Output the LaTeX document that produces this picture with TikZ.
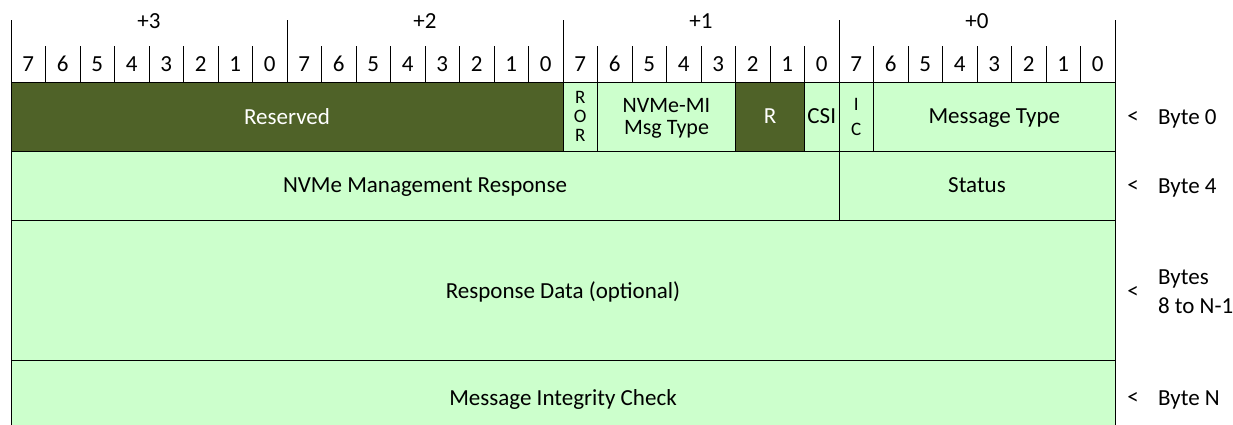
\documentclass[tikz,border=0pt]{standalone}
\usepackage{fontspec}
\setmainfont{Carlito}
\definecolor{rsvdgreen}{RGB}{79,98,40}
\definecolor{fieldgreen}{RGB}{204,255,204}
\def\cw{34.5}

\begin{document}
\begin{tikzpicture}[x=1pt, y=-1pt, line width=1pt, inner sep=0pt, outer sep=0pt,
  font=\fontsize{23}{27}\selectfont, text depth=0pt,
  field/.style={draw, fill=fieldgreen, anchor=north west, align=center},
  rsvd/.style={field, fill=rsvdgreen, text=white},
  narrow/.style={font=\fontsize{19}{19}\selectfont}]
\useasboundingbox (0,0) rectangle (1233,424);
\clip (0,0) rectangle (1233,424);

% header
\foreach \b in {0,...,4}
  \draw (11+\b*8*\cw,20) -- (11+\b*8*\cw,82);
\foreach \i in {1,...,31}
  \draw (11+\i*\cw,46) -- (11+\i*\cw,82);
\foreach \b in {0,...,3} {
  \pgfmathtruncatemacro\byte{3-\b}
  \node (byte\b) at (11+\b*8*\cw+4*\cw,21) {+\byte};
}
\foreach \i in {0,...,31} {
  \pgfmathtruncatemacro\bit{7-mod(\i,8)}
  \node (bit\i) at (11+\i*\cw+\cw/2,64) {\bit};
}

% byte 0
\node[rsvd, minimum width=16*\cw, minimum height=69] (reserved) at (11,82) {Reserved};
\node[field, narrow, minimum width=\cw, minimum height=69] (ror) at (11+16*\cw,82) {R\\O\\R};
\node[field, minimum width=4*\cw, minimum height=69, font=\fontsize{22}{22}\selectfont] (mimsg) at (11+17*\cw,82) {NVMe-MI\\Msg Type};
\node[rsvd, minimum width=2*\cw, minimum height=69] (rbits) at (11+21*\cw,82) {R};
\node[field, minimum width=\cw, minimum height=69] (csi) at (11+23*\cw,82) {CSI};
\node[field, narrow, minimum width=\cw, minimum height=69, font=\fontsize{19}{25}\selectfont] (ic) at (11+24*\cw,82) {I\\C};
\node[field, minimum width=7*\cw, minimum height=69] (msgtype) at (11+25*\cw,82) {Message Type};

% byte 4
\node[field, minimum width=24*\cw, minimum height=69] (mgmtresp) at (11,151) {NVMe Management Response};
\node[field, minimum width=8*\cw, minimum height=69] (status) at (11+24*\cw,151) {Status};

% bytes 8 to N-1
\node[field, minimum width=32*\cw, minimum height=140] (respdata) at (11,220) {Response Data (optional)};

% byte N
\node[field, minimum width=32*\cw, minimum height=76] (mic) at (11,360) {Message Integrity Check};

% offsets
\node (lt0) at (1133,117) {<};
\node[anchor=west] (off0) at (1158,117) {Byte 0};
\node (lt1) at (1133,186) {<};
\node[anchor=west] (off1) at (1158,186) {Byte 4};
\node (lt2) at (1133,292) {<};
\node[anchor=west, align=left, font=\fontsize{23}{29}\selectfont] (off2) at (1158,292) {Bytes\\8 to N-1};
\node (lt3) at (1133,398) {<};
\node[anchor=west] (off3) at (1158,398) {Byte N};
\end{tikzpicture}
\end{document}
